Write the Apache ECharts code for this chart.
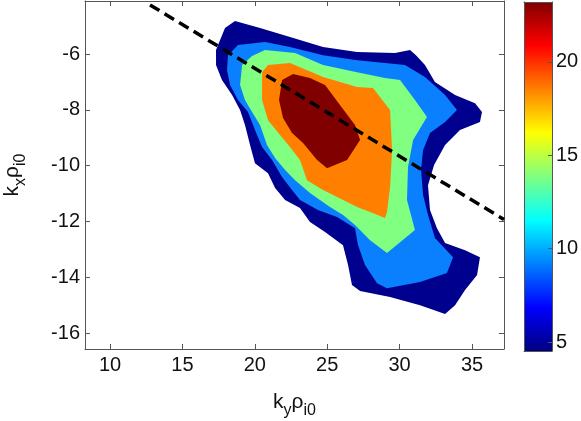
<!DOCTYPE html>
<html>
<head>
<meta charset="utf-8">
<script src="https://cdn.jsdelivr.net/npm/echarts@6/dist/echarts.min.js"></script>
<style>
html,body{margin:0;padding:0;background:#fff;}
#c{width:581px;height:421px;}
</style>
</head>
<body>
<div id="c"></div>
<script>
// ---- data ----
const xRange = [8.27, 37.21];
const yRange = [-16.57, -4.10];
const xTicks = [10, 15, 20, 25, 30, 35];
const yTicks = [-16, -14, -12, -10, -8, -6];
const cbRange = [4.52, 23.21];
const cbTicks = [5, 10, 15, 20];

// filled contour regions (outer to inner), vertices in [k_y rho_i0, k_x rho_i0]
const level1 = [[17.46,-5.68],[17.94,-5.07],[18.63,-4.82],[20.36,-5.07],[22.43,-5.39],[24.71,-5.75],[27.06,-5.93],[29.68,-5.96],[30.72,-5.86],[31.13,-6.04],[31.75,-6.39],[32.44,-7.00],[33.83,-7.47],[35.21,-7.76],[35.69,-8.08],[35.55,-8.44],[34.17,-8.72],[33.14,-9.26],[32.38,-9.98],[31.96,-10.70],[32.10,-11.59],[32.58,-12.24],[33.14,-12.77],[34.52,-13.03],[35.55,-13.28],[35.35,-13.92],[34.52,-14.46],[33.83,-15.00],[33.14,-15.32],[31.41,-15.00],[29.34,-14.71],[27.27,-14.49],[26.71,-14.28],[26.44,-13.56],[26.09,-12.85],[24.85,-12.38],[23.81,-12.02],[23.12,-11.52],[22.09,-11.23],[21.40,-10.80],[20.91,-10.27],[20.01,-9.91],[19.67,-9.26],[19.32,-8.54],[18.98,-8.01],[18.43,-7.47],[17.73,-6.93],[17.32,-6.39],[17.32,-5.86]];
const level2 = [[18.15,-6.04],[18.84,-5.68],[20.70,-5.57],[22.43,-5.75],[24.71,-6.04],[27.06,-6.22],[28.99,-6.32],[30.37,-6.39],[31.75,-6.82],[33.14,-7.47],[33.96,-8.01],[33.14,-8.44],[32.10,-8.83],[31.62,-9.44],[31.48,-10.16],[31.62,-11.05],[31.96,-11.77],[32.44,-12.59],[33.69,-13.28],[33.27,-13.85],[31.41,-14.17],[29.13,-14.39],[28.44,-14.21],[27.61,-13.56],[27.13,-12.85],[26.92,-12.24],[25.68,-11.84],[24.36,-11.59],[23.12,-11.23],[22.57,-10.87],[21.88,-10.41],[21.19,-9.80],[20.50,-9.33],[20.01,-8.72],[19.53,-8.08],[18.84,-7.65],[18.29,-7.11],[18.08,-6.57]];
const level3 = [[19.12,-6.39],[19.81,-6.07],[20.70,-5.86],[22.78,-5.96],[24.71,-6.39],[27.06,-6.65],[28.99,-6.86],[30.03,-6.93],[31.06,-7.65],[31.89,-8.26],[30.93,-9.08],[30.58,-10.05],[30.51,-11.23],[31.06,-12.31],[29.13,-13.13],[27.96,-12.67],[26.92,-12.13],[26.09,-11.77],[25.19,-11.48],[23.81,-10.98],[22.78,-10.52],[22.09,-10.16],[21.40,-9.73],[20.84,-9.26],[20.36,-8.54],[19.81,-8.08],[19.32,-7.65],[18.98,-7.11]];
const level4 = [[20.50,-6.65],[20.91,-6.39],[22.43,-6.32],[24.71,-6.82],[27.06,-7.18],[28.16,-7.22],[29.34,-8.01],[29.48,-9.44],[29.34,-10.77],[29.13,-11.66],[28.99,-11.88],[27.96,-11.66],[27.06,-11.48],[24.71,-10.87],[23.60,-10.52],[23.12,-9.80],[22.43,-9.33],[21.74,-8.90],[20.91,-8.37],[20.50,-7.65]];
const level5 = [[21.88,-6.93],[22.64,-6.72],[23.81,-6.86],[24.85,-7.11],[25.88,-7.83],[26.92,-8.54],[27.27,-9.08],[26.37,-9.80],[24.99,-10.09],[24.30,-9.80],[23.33,-9.19],[22.57,-8.83],[21.95,-8.29],[21.67,-7.65]];
const levels = [level1, level2, level3, level4, level5];
const levelColors = ['#00008F', '#0A80FF', '#80FF80', '#FF8000', '#800000'];

// dashed guide line
const dashLine = [[12.76, -4.24], [37.21, -11.93]];

// jet colormap stops for the colorbar
const jetColors = ['#000080', '#0000FF', '#0080FF', '#00FFFF', '#80FF80', '#FFFF00', '#FF8000', '#FF0000', '#800000'];

// ---- chart ----
const FONT = "'Liberation Sans', Arial, sans-serif";
const axisColor = '#555';
const labelColor = '#111';

const richName = {
  k: {fontSize: 21, fontFamily: FONT, color: labelColor},
  s: {fontSize: 16, fontFamily: FONT, color: labelColor, padding: [18, 0, 0, 0]}
};

function frameAxis(type, extra) {
  return Object.assign({
    type: 'value',
    axisLine: {show: true, onZero: false, lineStyle: {color: axisColor, width: 1}},
    axisTick: {show: false},
    axisLabel: {show: false},
    splitLine: {show: false},
    z: 5
  }, extra);
}

const chart = echarts.init(document.getElementById('c'), null, {renderer: 'canvas'});

const contourSeries = levels.map((pts, i) => ({
  type: 'custom',
  xAxisIndex: 0,
  yAxisIndex: 0,
  silent: true,
  clip: true,
  z: 2 + i,
  data: pts,
  renderItem: function (params, api) {
    if (params.dataIndex !== 0) return null;
    return {
      type: 'polygon',
      shape: {points: pts.map(p => api.coord(p))},
      style: {fill: levelColors[i], stroke: null}
    };
  }
}));

const option = {
  animation: false,
  backgroundColor: '#fff',
  grid: [
    {left: 85, top: 1, width: 419, height: 348, containLabel: false, outerBoundsMode: 'none'},
    {left: 524, top: 2, width: 28, height: 349, containLabel: false, outerBoundsMode: 'none'}
  ],
  xAxis: [
    frameAxis('x', {
      gridIndex: 0, position: 'bottom', min: xRange[0], max: xRange[1],
      axisTick: {show: true, inside: true, length: 5, customValues: xTicks, lineStyle: {color: axisColor}},
      axisLabel: {show: true, customValues: xTicks, fontSize: 20, fontFamily: FONT, color: labelColor, margin: 6},
      name: '{k|k}{s|y}{k|ρ}{s|i0}',
      nameLocation: 'middle',
      nameGap: 36,
      nameTextStyle: {rich: richName}
    }),
    frameAxis('x', {
      gridIndex: 0, position: 'top', min: xRange[0], max: xRange[1],
      axisTick: {show: true, inside: true, length: 5, customValues: xTicks, lineStyle: {color: axisColor}}
    }),
    frameAxis('x', {gridIndex: 1, position: 'bottom', min: 0, max: 1}),
    frameAxis('x', {gridIndex: 1, position: 'top', min: 0, max: 1})
  ],
  yAxis: [
    frameAxis('y', {
      gridIndex: 0, position: 'left', min: yRange[0], max: yRange[1],
      axisTick: {show: true, inside: true, length: 5, customValues: yTicks, lineStyle: {color: axisColor}},
      axisLabel: {show: true, customValues: yTicks, fontSize: 20, fontFamily: FONT, color: labelColor, margin: 5},
      name: '{k|k}{s|x}{k|ρ}{s|i0}',
      nameLocation: 'middle',
      nameGap: 56,
      nameRotate: 90,
      nameTextStyle: {rich: richName}
    }),
    frameAxis('y', {
      gridIndex: 0, position: 'right', min: yRange[0], max: yRange[1],
      axisTick: {show: true, inside: true, length: 5, customValues: yTicks, lineStyle: {color: axisColor}}
    }),
    frameAxis('y', {gridIndex: 1, position: 'left', min: cbRange[0], max: cbRange[1]}),
    frameAxis('y', {
      gridIndex: 1, position: 'right', min: cbRange[0], max: cbRange[1],
      axisTick: {show: true, inside: true, length: 4, customValues: cbTicks, lineStyle: {color: axisColor}},
      axisLabel: {show: true, customValues: cbTicks, fontSize: 20, fontFamily: FONT, color: labelColor, margin: 4}
    })
  ],
  series: contourSeries.concat([
    {
      type: 'line',
      xAxisIndex: 0,
      yAxisIndex: 0,
      data: dashLine,
      symbol: 'none',
      silent: true,
      clip: true,
      z: 10,
      lineStyle: {color: '#000', width: 3.5, type: [11, 6]}
    },
    {
      type: 'custom',
      xAxisIndex: 2,
      yAxisIndex: 3,
      silent: true,
      z: 2,
      data: [[0, cbRange[0]], [1, cbRange[1]]],
      renderItem: function (params, api) {
        if (params.dataIndex !== 0) return null;
        const p0 = api.coord([0, cbRange[1]]);
        const p1 = api.coord([1, cbRange[0]]);
        const stops = jetColors.map((c, i) => ({offset: i / (jetColors.length - 1), color: c}));
        return {
          type: 'rect',
          shape: {x: p0[0], y: p0[1], width: p1[0] - p0[0], height: p1[1] - p0[1]},
          style: {fill: new echarts.graphic.LinearGradient(0, 1, 0, 0, stops)}
        };
      }
    }
  ])
};

chart.setOption(option);
</script>
</body>
</html>
